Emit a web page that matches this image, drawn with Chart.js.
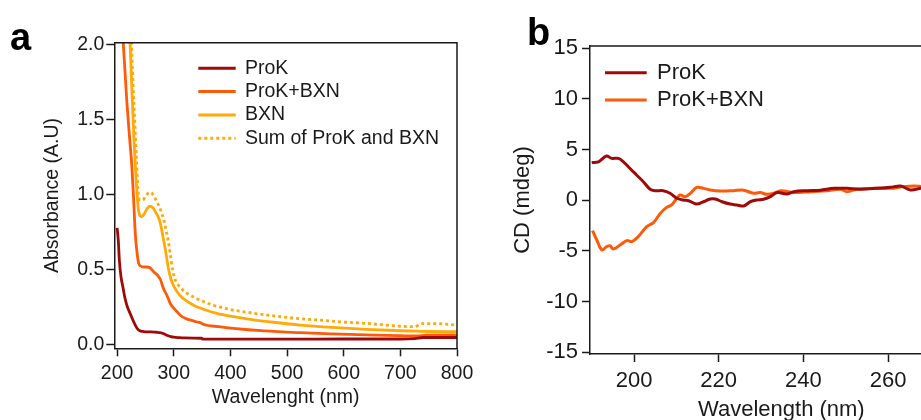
<!DOCTYPE html>
<html>
<head>
<meta charset="utf-8">
<script src="https://cdn.jsdelivr.net/npm/chart.js@4.4.0/dist/chart.umd.min.js"></script>
<style>
  html, body { margin: 0; padding: 0; width: 921px; height: 420px; overflow: hidden; background: #fff; }
  .tag { position: absolute; font-family: 'Liberation Sans', Arial, sans-serif; font-weight: bold;
         font-size: 38px; line-height: 38px; color: #000; }
  #wrapA { position: absolute; left: 0; top: 0; width: 490px; height: 420px; }
  #wrapB { position: absolute; left: 470px; top: 0; width: 520px; height: 440px; }
</style>
</head>
<body>
<div id="wrapA"><canvas id="absChart" width="490" height="420"></canvas></div>
<div id="wrapB"><canvas id="cdChart" width="520" height="440"></canvas></div>
<div class="tag" style="left:10px; top:18px;">a</div>
<div class="tag" style="left:527px; top:13px;">b</div>
<script>
// --- panel a : absorbance ---
const absXTicks = [200, 300, 400, 500, 600, 700, 800];
const absYTicks = [0, 0.5, 1.0, 1.5, 2.0];

const prokWl  = [200, 202, 204, 207, 210, 214, 218, 223, 228, 232, 236, 240, 245, 250, 260, 270, 275, 280, 285, 290, 295, 300, 310, 320, 335, 349, 351, 400, 500, 600, 700, 725, 740, 800];
const prokAbs = [0.78, 0.70, 0.56, 0.45, 0.39, 0.31, 0.255, 0.21, 0.165, 0.133, 0.108, 0.095, 0.09, 0.088, 0.087, 0.085, 0.083, 0.078, 0.07, 0.062, 0.056, 0.052, 0.049, 0.047, 0.046, 0.045, 0.040, 0.039, 0.039, 0.04, 0.04, 0.043, 0.05, 0.05];

const mixWl  = [209, 211, 217, 222, 226, 229, 232, 235, 238, 242, 246, 252, 258, 264, 270, 276, 282, 288, 294, 300, 305, 311, 320, 329, 340, 349, 352, 380, 405, 460, 523, 580, 640, 700, 729, 745, 800];
const mixAbs = [2.15, 2.0, 1.63, 1.38, 1.19, 0.98, 0.745, 0.62, 0.545, 0.525, 0.52, 0.52, 0.515, 0.49, 0.47, 0.44, 0.375, 0.33, 0.275, 0.245, 0.225, 0.2, 0.178, 0.167, 0.155, 0.145, 0.138, 0.122, 0.111, 0.094, 0.082, 0.074, 0.067, 0.062, 0.06, 0.066, 0.068];

const bxnWl  = [220, 223, 226, 229, 231, 233.5, 235.5, 237.6, 240, 243.5, 248, 253, 258, 263, 268, 273, 277, 281, 285, 288, 291, 295, 299, 305, 311, 320, 335, 355, 376, 400, 435, 480, 523, 580, 640, 700, 729, 745, 800];
const bxnAbs = [2.25, 2.0, 1.7, 1.43, 1.27, 1.1, 0.99, 0.9, 0.865, 0.855, 0.875, 0.91, 0.925, 0.915, 0.885, 0.85, 0.80, 0.72, 0.64, 0.57, 0.5, 0.44, 0.40, 0.36, 0.33, 0.30, 0.265, 0.235, 0.211, 0.192, 0.171, 0.15, 0.133, 0.117, 0.104, 0.095, 0.092, 0.09, 0.089];

const sumWl  = [222, 225, 228, 231, 234, 237.6, 241, 245, 250, 254, 258, 262, 266, 270, 274, 278, 282, 286, 290, 294, 298, 302, 306, 315, 323, 335, 346, 370, 405, 435, 464, 510, 552, 600, 640, 700, 725, 738, 760, 800];
const sumAbs = [2.3, 2.05, 1.75, 1.5, 1.25, 1.0, 0.965, 0.965, 0.99, 1.01, 1.018, 1.01, 0.985, 0.955, 0.925, 0.885, 0.84, 0.77, 0.70, 0.6, 0.5, 0.44, 0.41, 0.37, 0.345, 0.32, 0.30, 0.265, 0.233, 0.215, 0.20, 0.18, 0.167, 0.153, 0.144, 0.125, 0.122, 0.142, 0.143, 0.133];

// --- panel b : CD ---
const cdXTicks = [200, 220, 240, 260, 280];
const cdYTicks = [-15, -10, -5, 0, 5, 10, 15];

const cdProkWl = [190, 191.6, 193.5, 194.7, 196.3, 197.5, 199, 200.6, 202.2, 203.8, 205, 206.9, 208.5, 210.1, 211.7, 212.9, 214.8, 216.4, 218, 219.2, 220.8, 222.7, 224.3, 225.9, 227.5, 229, 230.6, 232.2, 233.8, 236.1, 237.7, 240.9, 244, 247.2, 250.3, 253.5, 257.4, 260.6, 263, 265.3, 267.7, 270];
const cdProk   = [3.73, 3.8, 4.37, 4.14, 4.14, 3.8, 3.16, 2.5, 1.84, 1.09, 0.95, 0.95, 0.69, 0.2, 0.03, -0.04, -0.37, -0.14, 0.13, 0.13, -0.14, -0.37, -0.46, -0.56, -0.14, 0.03, 0.1, 0.36, 0.76, 0.63, 0.85, 0.95, 1.0, 1.18, 1.18, 1.1, 1.18, 1.28, 1.41, 1.02, 1.18, 1.3];

const cdMixWl = [190.2, 191.2, 192.4, 193.5, 194.3, 195.1, 196.7, 198.3, 199.5, 201, 203, 204.6, 206.2, 207.7, 208.9, 210.1, 210.9, 212.1, 213.3, 214.8, 216.4, 218, 220.4, 223.5, 225.9, 228.2, 229.8, 231.4, 233, 234.6, 236.5, 237.7, 241.7, 245.6, 248.8, 250.3, 252.7, 256.6, 260.6, 263.7, 266.1, 268, 270];
const cdMix   = [-3.0, -3.92, -4.9, -4.58, -4.48, -4.81, -4.41, -3.98, -4.08, -3.59, -2.6, -2.2, -1.29, -0.7, -0.46, 0.2, 0.52, 0.36, 0.69, 1.28, 1.18, 1.02, 0.92, 0.95, 1.0, 0.69, 0.76, 0.59, 0.69, 0.95, 0.85, 0.76, 0.85, 0.95, 1.1, 0.85, 1.1, 1.18, 1.18, 1.35, 1.41, 1.35, 1.3];

const RED = '#9e0a0a', ORANGE = '#ff5a0a', AMBER = '#ffaa0a', INK = '#1a1a1a';
const FONT = "'Liberation Sans', Arial, sans-serif";

const pts = (xs, ys) => xs.map((x, i) => ({ x: x, y: ys[i] }));

// top and right edge of the plot box
const boxPlugin = {
  id: 'box',
  afterDraw(chart) {
    const { ctx, chartArea: a } = chart;
    ctx.save();
    ctx.strokeStyle = INK;
    ctx.lineWidth = 1.5;
    ctx.beginPath();
    ctx.moveTo(a.left, a.top);
    ctx.lineTo(a.right, a.top);
    ctx.lineTo(a.right, a.bottom);
    ctx.stroke();
    ctx.restore();
  }
};

// legend drawn at a fixed spot inside the plot
const legendPlugin = {
  id: 'inLegend',
  afterDraw(chart, args, o) {
    const ctx = chart.ctx;
    ctx.save();
    ctx.font = o.size + 'px ' + FONT;
    ctx.textBaseline = 'middle';
    ctx.fillStyle = INK;
    chart.data.datasets.forEach((ds, i) => {
      const y = o.y + i * o.gap;
      ctx.strokeStyle = ds.borderColor;
      ctx.lineWidth = 3;
      ctx.setLineDash(ds.borderDash || []);
      ctx.beginPath();
      ctx.moveTo(o.x, y);
      ctx.lineTo(o.x + o.len, y);
      ctx.stroke();
      ctx.setLineDash([]);
      ctx.fillText(ds.label, o.textX, y);
    });
    ctx.restore();
  }
};

function axis(opt) {
  return {
    type: 'linear',
    min: opt.min,
    max: opt.max,
    afterBuildTicks: s => { s.ticks = opt.ticks.map(v => ({ value: v })); },
    afterFit: opt.fit,
    grid: { display: true, drawOnChartArea: false, tickLength: 8, tickColor: INK, tickWidth: 1.5 },
    border: { display: true, color: INK, width: 1.5 },
    ticks: { color: INK, font: { family: FONT, size: opt.size }, padding: opt.pad,
             maxRotation: 0, autoSkip: false, callback: opt.fmt },
    title: { display: true, text: opt.title, color: INK, font: { family: FONT, size: opt.size },
             padding: { top: 4, bottom: 4 } }
  };
}

new Chart(document.getElementById('absChart'), {
  type: 'line',
  data: {
    datasets: [
      { label: 'ProK', data: pts(prokWl, prokAbs), borderColor: RED },
      { label: 'ProK+BXN', data: pts(mixWl, mixAbs), borderColor: ORANGE },
      { label: 'BXN', data: pts(bxnWl, bxnAbs), borderColor: AMBER },
      { label: 'Sum of ProK and BXN', data: pts(sumWl, sumAbs), borderColor: AMBER, borderDash: [3, 3] }
    ]
  },
  options: {
    responsive: false,
    animation: false,
    devicePixelRatio: 1,
    layout: { padding: { left: 37.3, top: 42.7, right: 33, bottom: 6.3 } },
    elements: { point: { radius: 0 }, line: { borderWidth: 2.8, cubicInterpolationMode: 'monotone' } },
    datasets: { line: { clip: 0 } },
    plugins: {
      legend: { display: false },
      tooltip: { enabled: false },
      inLegend: { x: 198.3, len: 37.4, textX: 245, y: 68.3, gap: 23.3, size: 19.5 }
    },
    scales: {
      x: axis({ min: 195, max: 800, ticks: absXTicks, size: 19.5, pad: 6, title: 'Wavelenght (nm)',
                fmt: v => String(v),
                fit: s => { s.height = 65.4; s.paddingLeft = 0; s.paddingRight = 0; } }),
      y: axis({ min: -0.022, max: 2.015, ticks: absYTicks, size: 19.5, pad: 2, title: 'Absorbance (A.U)',
                fmt: v => v.toFixed(1),
                fit: s => { s.width = 77; } })
    }
  },
  plugins: [boxPlugin, legendPlugin]
});

new Chart(document.getElementById('cdChart'), {
  type: 'line',
  data: {
    datasets: [
      { label: 'ProK', data: pts(cdProkWl, cdProk), borderColor: RED },
      { label: 'ProK+BXN', data: pts(cdMixWl, cdMix), borderColor: ORANGE }
    ]
  },
  options: {
    responsive: false,
    animation: false,
    devicePixelRatio: 1,
    layout: { padding: { left: 36, top: 46, right: 17.3, bottom: 13.3 } },
    elements: { point: { radius: 0 }, line: { borderWidth: 3, tension: 0.35 } },
    datasets: { line: { clip: 0 } },
    plugins: {
      legend: { display: false },
      tooltip: { enabled: false },
      inLegend: { x: 135, len: 41.7, textX: 187, y: 72.7, gap: 27.3, size: 22 }
    },
    scales: {
      x: axis({ min: 189.6, max: 280, ticks: cdXTicks, size: 22, pad: 6, title: 'Wavelength (nm)',
                fmt: v => String(v),
                fit: s => { s.height = 72.7; s.paddingLeft = 0; s.paddingRight = 0; } }),
      y: axis({ min: -15.17, max: 15.23, ticks: cdYTicks, size: 22, pad: 4, title: 'CD (mdeg)',
                fmt: v => String(v),
                fit: s => { s.width = 84; } })
    }
  },
  plugins: [boxPlugin, legendPlugin]
});
</script>
</body>
</html>
